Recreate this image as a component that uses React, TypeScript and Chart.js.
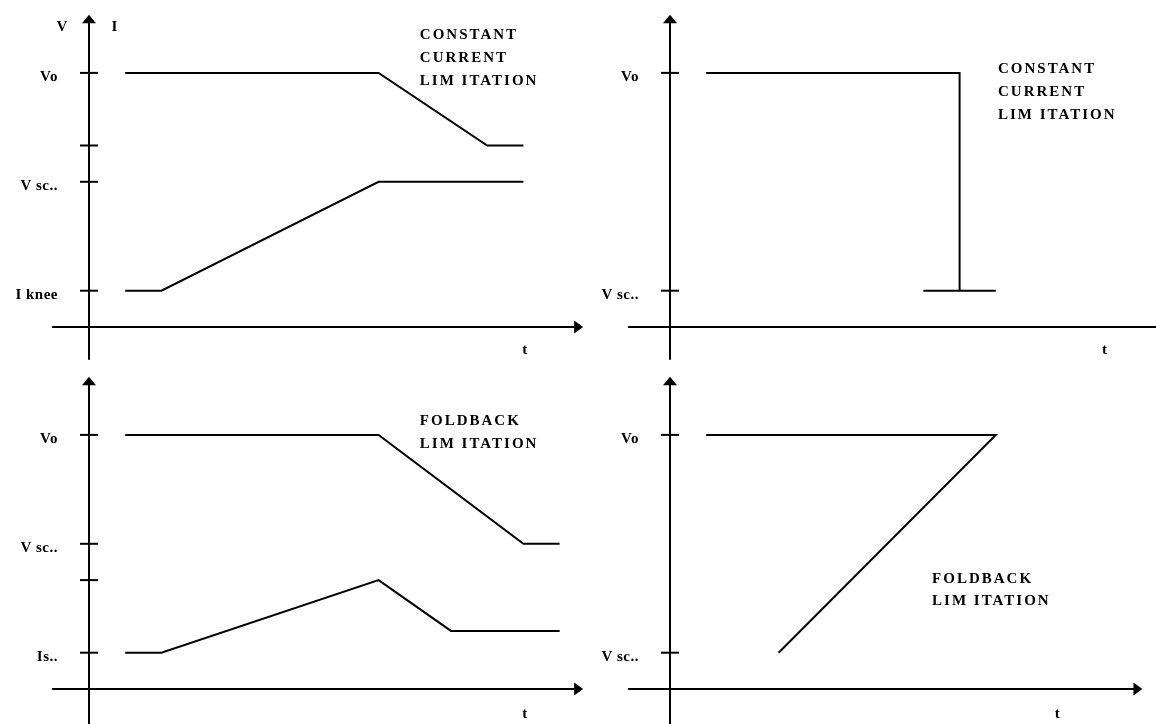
import React, { useEffect, useRef } from "react";
import { Chart, registerables } from "chart.js";

Chart.register(...registerables);

// ---------- DATA ----------
// Top-left: constant current limitation (V and I vs t)
const ccVoltageT = [1, 8, 11, 12];
const ccVoltageV = [7, 7, 5, 5];
const ccCurrentT = [1, 2, 8, 12];
const ccCurrentV = [1, 1, 4, 4];
const ccTickValues = [7, 5, 4, 1];
const ccTickLabels = ["Vo", "", "V sc..", "I knee"];
const ccTitle = ["CONSTANT", "CURRENT", "LIM ITATION"];

// Top-right: constant current limitation (load line)
const ccStepT = [1, 8, 8];
const ccStepV = [7, 7, 1];
const ccBaseT = [7, 9];
const ccBaseV = [1, 1];
const ccLoadTickValues = [7, 1];
const ccLoadTickLabels = ["Vo", "V sc.."];

// Bottom-left: foldback limitation (V and I vs t)
const fbVoltageT = [1, 8, 12, 13];
const fbVoltageV = [7, 7, 4, 4];
const fbCurrentT = [1, 2, 8, 10, 13];
const fbCurrentV = [1, 1, 3, 1.6, 1.6];
const fbTickValues = [7, 4, 3, 1];
const fbTickLabels = ["Vo", "V sc..", "", "Is.."];
const fbTitle = ["FOLDBACK", "LIM ITATION"];

// Bottom-right: foldback limitation (load line)
const fbLoadT = [1, 9, 3];
const fbLoadV = [7, 7, 1];
const fbLoadTickValues = [7, 1];
const fbLoadTickLabels = ["Vo", "V sc.."];

const timeLabel = "t";

// ---------- helpers ----------
const pts = (xs: number[], ys: number[]) => xs.map((x, i) => ({ x, y: ys[i] }));

const UNIT_X = 36.2;
const UNIT_Y = 36.3;
const FONT = 'bold 15px "Liberation Serif", "DejaVu Serif", serif';

type PanelCfg = {
  left: number;
  top: number;
  width: number;
  height: number;
  originX: number;
  originY: number;
  series: { x: number; y: number }[][];
  tickValues: number[];
  tickLabels: string[];
  hFrom: number;
  hTo: number | null;
  hArrow: boolean;
  vFrom: number | null;
  vTo: number;
  title: string[];
  titleX: number;
  titleY: number;
  titleSpacing: number;
  tX: number;
  tY: number;
  axisNames?: { text: string; x: number; y: number }[];
};

const diagramPlugin = {
  id: "diagram",
  afterDraw(chart: any, _args: any, opts: any) {
    const cfg: PanelCfg = opts.cfg;
    if (!cfg) return;
    const { ctx } = chart;
    const xs = chart.scales.x;
    const ys = chart.scales.y;
    const px = (v: number) => xs.getPixelForValue(v);
    const py = (v: number) => ys.getPixelForValue(v);
    ctx.save();
    ctx.strokeStyle = "#000";
    ctx.fillStyle = "#000";
    ctx.lineWidth = 2;
    const x0 = px(0);
    const y0 = py(0);

    // horizontal axis
    const hEnd = cfg.hTo === null ? chart.width : px(cfg.hTo);
    ctx.beginPath();
    ctx.moveTo(px(cfg.hFrom), y0);
    ctx.lineTo(cfg.hArrow ? hEnd - 6 : hEnd, y0);
    ctx.stroke();
    if (cfg.hArrow) {
      ctx.beginPath();
      ctx.moveTo(hEnd, y0);
      ctx.lineTo(hEnd - 9, y0 - 6.5);
      ctx.lineTo(hEnd - 9, y0 + 6.5);
      ctx.closePath();
      ctx.fill();
    }

    // vertical axis
    const vStart = cfg.vFrom === null ? chart.height : py(cfg.vFrom);
    const vTip = py(cfg.vTo);
    ctx.beginPath();
    ctx.moveTo(x0, vStart);
    ctx.lineTo(x0, vTip + 6);
    ctx.stroke();
    ctx.beginPath();
    ctx.moveTo(x0, vTip);
    ctx.lineTo(x0 - 7, vTip + 8.5);
    ctx.lineTo(x0 + 7, vTip + 8.5);
    ctx.closePath();
    ctx.fill();

    // ticks & labels
    ctx.font = FONT;
    (ctx as any).letterSpacing = "0.5px";
    ctx.textAlign = "right";
    ctx.textBaseline = "middle";
    cfg.tickValues.forEach((v, i) => {
      const yy = py(v);
      ctx.beginPath();
      ctx.moveTo(x0 - 9, yy);
      ctx.lineTo(x0 + 9, yy);
      ctx.stroke();
      const lab = cfg.tickLabels[i];
      if (lab) ctx.fillText(lab, x0 - 31, yy + 4);
    });

    // axis names
    (ctx as any).letterSpacing = "0px";
    ctx.textAlign = "center";
    (cfg.axisNames || []).forEach((a) => {
      ctx.fillText(a.text, px(a.x), py(a.y));
    });
    ctx.fillText(timeLabel, px(cfg.tX), py(cfg.tY));

    // title block
    ctx.textAlign = "left";
    (ctx as any).letterSpacing = "2px";
    cfg.title.forEach((line, i) => {
      ctx.fillText(line, px(cfg.titleX), py(cfg.titleY) + i * cfg.titleSpacing);
    });
    ctx.restore();
  },
};

function Panel({ cfg }: { cfg: PanelCfg }) {
  const ref = useRef<HTMLCanvasElement | null>(null);
  useEffect(() => {
    if (!ref.current) return;
    const chart = new Chart(ref.current, {
      type: "scatter",
      data: {
        datasets: cfg.series.map((s) => ({
          data: s,
          showLine: true,
          borderColor: "#000",
          backgroundColor: "#000",
          borderWidth: 2,
          pointRadius: 0,
          pointHoverRadius: 0,
          tension: 0,
          fill: false,
        })),
      },
      options: {
        animation: false,
        responsive: false,
        devicePixelRatio: 1,
        events: [],
        layout: { padding: 0 },
        scales: {
          x: {
            type: "linear",
            display: false,
            min: -cfg.originX / UNIT_X,
            max: (cfg.width - cfg.originX) / UNIT_X,
          },
          y: {
            type: "linear",
            display: false,
            min: -(cfg.height - cfg.originY) / UNIT_Y,
            max: cfg.originY / UNIT_Y,
          },
        },
        plugins: {
          legend: { display: false },
          tooltip: { enabled: false },
          diagram: { cfg },
        } as any,
      },
      plugins: [diagramPlugin],
    });
    return () => chart.destroy();
  }, [cfg]);
  return (
    <canvas
      ref={ref}
      width={cfg.width}
      height={cfg.height}
      style={{
        position: "absolute",
        left: cfg.left,
        top: cfg.top,
        width: cfg.width,
        height: cfg.height,
      }}
    />
  );
}

const panels: PanelCfg[] = [
  {
    left: 0,
    top: 0,
    width: 600,
    height: 362,
    originX: 89,
    originY: 327,
    series: [pts(ccVoltageT, ccVoltageV), pts(ccCurrentT, ccCurrentV)],
    tickValues: ccTickValues,
    tickLabels: ccTickLabels,
    hFrom: -1.02,
    hTo: 13.65,
    hArrow: true,
    vFrom: -0.9,
    vTo: 8.6,
    title: ccTitle,
    titleX: 9.14,
    titleY: 8.05,
    titleSpacing: 23,
    tX: 12.04,
    tY: -0.63,
    axisNames: [
      { text: "V", x: -0.75, y: 8.26 },
      { text: "I", x: 0.7, y: 8.26 },
    ],
  },
  {
    left: 578,
    top: 0,
    width: 578,
    height: 362,
    originX: 92,
    originY: 327,
    series: [pts(ccStepT, ccStepV), pts(ccBaseT, ccBaseV)],
    tickValues: ccLoadTickValues,
    tickLabels: ccLoadTickLabels,
    hFrom: -1.16,
    hTo: null,
    hArrow: false,
    vFrom: -0.9,
    vTo: 8.6,
    title: ccTitle,
    titleX: 9.06,
    titleY: 7.1,
    titleSpacing: 23,
    tX: 12.0,
    tY: -0.63,
  },
  {
    left: 0,
    top: 362,
    width: 600,
    height: 362,
    originX: 89,
    originY: 327,
    series: [pts(fbVoltageT, fbVoltageV), pts(fbCurrentT, fbCurrentV)],
    tickValues: fbTickValues,
    tickLabels: fbTickLabels,
    hFrom: -1.02,
    hTo: 13.65,
    hArrow: true,
    vFrom: null,
    vTo: 8.6,
    title: fbTitle,
    titleX: 9.14,
    titleY: 7.38,
    titleSpacing: 23,
    tX: 12.04,
    tY: -0.7,
  },
  {
    left: 578,
    top: 362,
    width: 578,
    height: 362,
    originX: 92,
    originY: 327,
    series: [pts(fbLoadT, fbLoadV)],
    tickValues: fbLoadTickValues,
    tickLabels: fbLoadTickLabels,
    hFrom: -1.16,
    hTo: 13.05,
    hArrow: true,
    vFrom: null,
    vTo: 8.6,
    title: fbTitle,
    titleX: 7.24,
    titleY: 3.03,
    titleSpacing: 22,
    tX: 10.7,
    tY: -0.7,
  },
];

export default function App() {
  return (
    <div
      style={{
        position: "fixed",
        left: 0,
        top: 0,
        width: 1156,
        height: 724,
        background: "#fff",
        overflow: "hidden",
      }}
    >
      {panels.map((p, i) => (
        <Panel key={i} cfg={p} />
      ))}
    </div>
  );
}
